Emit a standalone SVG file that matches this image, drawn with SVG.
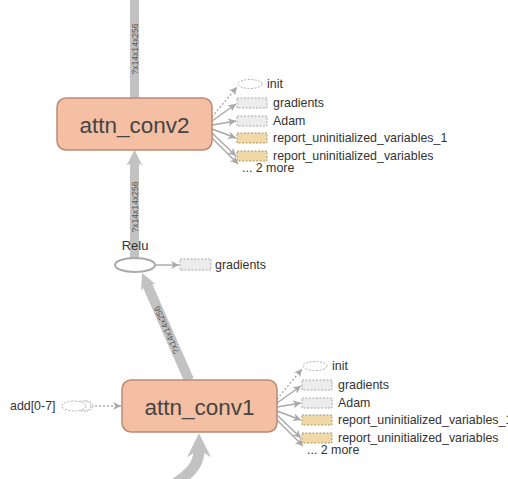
<svg xmlns="http://www.w3.org/2000/svg" width="508" height="479" viewBox="0 0 508 479">
<style>
  text { font-family: "Liberation Sans", Arial, sans-serif; fill: #333; }
  .lbl { font-size: 12.4px; dominant-baseline: central; }
  .big { font-size: 22.5px; fill: #444; text-anchor: middle; dominant-baseline: central; }
  .elbl { font-size: 8.6px; fill: #555; text-anchor: middle; dominant-baseline: central; }
  .box { fill: #f4bfa3; stroke: #b98a74; stroke-width: 1.5; }
  .thick { fill: none; stroke: #c2c2c2; }
  .thin { fill: none; stroke: #a8a8a8; stroke-width: 1.4; marker-end: url(#ah); }
  .ctrl { stroke-dasharray: 2 2; }
  .aux { fill: #ececec; stroke: #a8a8a8; stroke-width: 1; stroke-dasharray: 2 1.5; }
  .rep { fill: #f0d9a6; stroke: #a89a70; stroke-width: 1; stroke-dasharray: 2 1.5; }
  .ini { fill: #fff; stroke: #b0b0b0; stroke-width: 1; stroke-dasharray: 2 1.5; }
</style>
<defs>
  <marker id="ah" viewBox="0 0 10 10" refX="10" refY="5" markerWidth="8" markerHeight="8" markerUnits="userSpaceOnUse" orient="auto">
    <path d="M0,0 L10,5 L0,10 L3,5 z" fill="#a8a8a8"/>
  </marker>
  <marker id="ahThick" viewBox="0 0 10 10" refX="3" refY="5" markerWidth="16" markerHeight="16" markerUnits="userSpaceOnUse" orient="auto">
    <path d="M0,0 L10,5 L0,10 L3,5 z" fill="#c2c2c2"/>
  </marker>
  <marker id="ahBig" viewBox="0 0 10 10" refX="3" refY="5" markerWidth="24" markerHeight="24" markerUnits="userSpaceOnUse" orient="auto">
    <path d="M0,0 L10,5 L0,10 L3,5 z" fill="#c2c2c2"/>
  </marker>
</defs>
<rect x="0" y="0" width="508" height="479" fill="#fff"/>

<g id="edges">
  <path class="thick" d="M134.5 -5 L134.5 98" stroke-width="9"/>
  <path class="thick" d="M134.5 258 L134.5 161" stroke-width="9" marker-end="url(#ahThick)"/>
  <path class="thick" d="M189 380 L146.5 283.2" stroke-width="10" marker-end="url(#ahThick)"/>
  <path class="thick" d="M166 490 C190 474 199 466 199 450" stroke-width="11" marker-end="url(#ahBig)"/>
  <text class="elbl" transform="translate(134.5 49) rotate(-90)">?x14x14x256</text>
  <text class="elbl" transform="translate(134.5 207) rotate(-90)">?x14x14x256</text>
  <text class="elbl" transform="translate(166.5 330) rotate(-113.7)">?x14x14x256</text>
  <path class="thin ctrl" d="M212 117 L237 87"/>
  <path class="thin" d="M212 121 L236 104"/>
  <path class="thin" d="M212 125 L236 121"/>
  <path class="thin" d="M212 129 L236 138"/>
  <path class="thin" d="M212 133 L236 156"/>
  <path class="thin" d="M211 137 L238 164"/>
  <path class="thin" d="M155 265 L179 265"/>
  <path class="thin ctrl" d="M277 399 L302 369"/>
  <path class="thin" d="M277 403 L301 386"/>
  <path class="thin" d="M277 407 L301 403"/>
  <path class="thin" d="M277 411 L301 420"/>
  <path class="thin" d="M277 415 L301 438"/>
  <path class="thin" d="M276 419 L303 446"/>
  <path class="thin ctrl" d="M95 406 L121 406"/>
</g>

<g id="attn_conv2">
  <rect class="box" x="57" y="98" width="155" height="52" rx="9"/>
  <text class="big" x="134.5" y="125">attn_conv2</text>
</g>
<g id="attn_conv1">
  <rect class="box" x="122" y="380" width="155" height="52" rx="9"/>
  <text class="big" x="199.5" y="407">attn_conv1</text>
</g>
<g id="relu">
  <ellipse cx="135" cy="265" rx="20" ry="7" fill="#fff" stroke="#aaa" stroke-width="2"/>
  <text class="lbl" x="135" y="245" text-anchor="middle" style="font-size:13px">Relu</text>
</g>
<g id="relu_gradients">
  <rect class="aux" x="180" y="259" width="31" height="11"/>
  <text class="lbl" x="215" y="265">gradients</text>
</g>

<g id="c2_init">
  <ellipse class="ini" cx="250" cy="84" rx="12" ry="4.5"/>
  <text class="lbl" x="267" y="84">init</text>
</g>
<g id="c2_gradients">
  <rect class="aux" x="237" y="98" width="30" height="10"/>
  <text class="lbl" x="273" y="103">gradients</text>
</g>
<g id="c2_adam">
  <rect class="aux" x="237" y="116" width="30" height="10"/>
  <text class="lbl" x="273" y="121">Adam</text>
</g>
<g id="c2_report1">
  <rect class="rep" x="237" y="133" width="30" height="10"/>
  <text class="lbl" x="273" y="138">report_uninitialized_variables_1</text>
</g>
<g id="c2_report">
  <rect class="rep" x="237" y="151" width="30" height="10"/>
  <text class="lbl" x="273" y="156">report_uninitialized_variables</text>
</g>
<g id="c2_more">
  <text class="lbl" x="242" y="168">... 2 more</text>
</g>

<g id="c1_init">
  <ellipse class="ini" cx="315" cy="366" rx="12" ry="4.5"/>
  <text class="lbl" x="332" y="366">init</text>
</g>
<g id="c1_gradients">
  <rect class="aux" x="302" y="380" width="30" height="10"/>
  <text class="lbl" x="338" y="385">gradients</text>
</g>
<g id="c1_adam">
  <rect class="aux" x="302" y="398" width="30" height="10"/>
  <text class="lbl" x="338" y="403">Adam</text>
</g>
<g id="c1_report1">
  <rect class="rep" x="302" y="415" width="30" height="10"/>
  <text class="lbl" x="338" y="420">report_uninitialized_variables_1</text>
</g>
<g id="c1_report">
  <rect class="rep" x="302" y="433" width="30" height="10"/>
  <text class="lbl" x="338" y="438">report_uninitialized_variables</text>
</g>
<g id="c1_more">
  <text class="lbl" x="307" y="450">... 2 more</text>
</g>

<g id="add_series">
  <ellipse class="ini" cx="86" cy="406" rx="7" ry="5"/>
  <ellipse class="ini" cx="83" cy="406" rx="8" ry="5"/>
  <ellipse class="ini" cx="74" cy="406" rx="12" ry="5"/>
  <text class="lbl" x="10" y="406">add[0-7]</text>
</g>
</svg>
